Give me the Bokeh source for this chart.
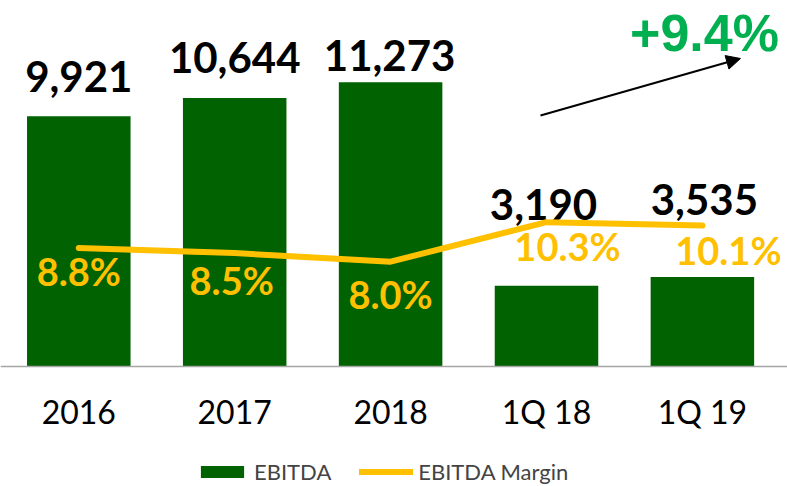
from bokeh.plotting import figure
from bokeh.models import (ColumnDataSource, Range1d, LinearAxis, FixedTicker, Legend,
                          LegendItem, Arrow, NormalHead, Label)
from bokeh.core.properties import value
from bokeh.embed import file_html
from bokeh.resources import INLINE

# ---- data ----
categories = ["2016", "2017", "2018", "1Q 18", "1Q 19"]
ebitda = [9921, 10644, 11273, 3190, 3535]
margin = [8.8, 8.5, 8.0, 10.3, 10.1]
growth_text = "+9.4%"
series_names = ["EBITDA", "EBITDA Margin"]

# label placement (screen pixel offsets)
ebitda_label_dx = [0, 0, -1, -3, 2]
ebitda_label_dy = [-40, -41, -27, -81, -78]
margin_label_dx = [0, -3, 0, 21, 26]
margin_label_dy = [23, 27, 32, 24, 24]

GREEN = "#006200"
YELLOW = "#FFC000"
FONT = "Lato"

xs = list(range(len(categories)))
src = ColumnDataSource(dict(
    x=xs, ebitda=ebitda, margin=margin,
    elab=[f"{v:,}" for v in ebitda],
    mlab=[f"{m:.1f}%" for m in margin],
    e_dx=ebitda_label_dx, e_dy=ebitda_label_dy,
    m_dx=margin_label_dx, m_dy=margin_label_dy,
))

p = figure(width=787, height=486, output_backend="svg", toolbar_location=None,
           x_range=Range1d(-0.5022, 4.5459), y_range=Range1d(-4787, 14521),
           x_axis_location=None, y_axis_location=None, min_border=0,
           outline_line_color=None, background_fill_color="white")
p.grid.visible = False
p.extra_y_ranges = {"m": Range1d(-5.070, 23.186)}

xaxis = LinearAxis(ticker=FixedTicker(ticks=xs),
                   major_label_overrides={i: c for i, c in enumerate(categories)},
                   fixed_location=0, axis_line_color="#a6a6a6", axis_line_width=1.5,
                   major_tick_line_color=None, minor_tick_line_color=None,
                   major_label_text_font=FONT, major_label_text_font_size="32px",
                   major_label_text_color="black", major_label_standoff=20)
p.add_layout(xaxis, "below")

bars = p.vbar(x="x", top="ebitda", width=0.664, source=src,
              fill_color=GREEN, line_color=None)

p.text(x="x", y="ebitda", text="elab", x_offset="e_dx", y_offset="e_dy", source=src,
       text_font=value(FONT), text_font_style="bold", text_font_size="42px",
       text_align="center", text_baseline="alphabetic", text_color="black")

line = p.line("x", "margin", source=src, y_range_name="m", line_color=YELLOW,
              line_width=6, line_cap="round", line_join="round")

p.text(x="x", y="margin", text="mlab", x_offset="m_dx", y_offset="m_dy", source=src,
       y_range_name="m", text_font=value(FONT), text_font_style="bold",
       text_font_size="38px", text_align="center", text_baseline="alphabetic",
       text_color=YELLOW)

p.add_layout(Arrow(end=NormalHead(size=14, fill_color="black", line_color="black", line_width=1),
                   x_start=2.9616, y_start=9952, x_end=4.2444, y_end=12217,
                   line_width=2, line_color="black"))

p.add_layout(Label(x=4.0135, y=13210, text=growth_text, text_font="Liberation Sans",
                   text_font_style="bold", text_font_size="52px", text_color="#00B050",
                   text_align="center", text_baseline="alphabetic"))

legend = Legend(items=[LegendItem(label=series_names[0], renderers=[bars]),
                       LegendItem(label=series_names[1], renderers=[line])],
                orientation="horizontal", location=(195, 1), glyph_width=54,
                glyph_height=15, label_standoff=5, spacing=28, padding=0, margin=0,
                border_line_color=None, background_fill_alpha=0,
                label_text_font=FONT, label_text_font_size="22px")
p.add_layout(legend)

open("out.html", "w").write(file_html(p, INLINE))
